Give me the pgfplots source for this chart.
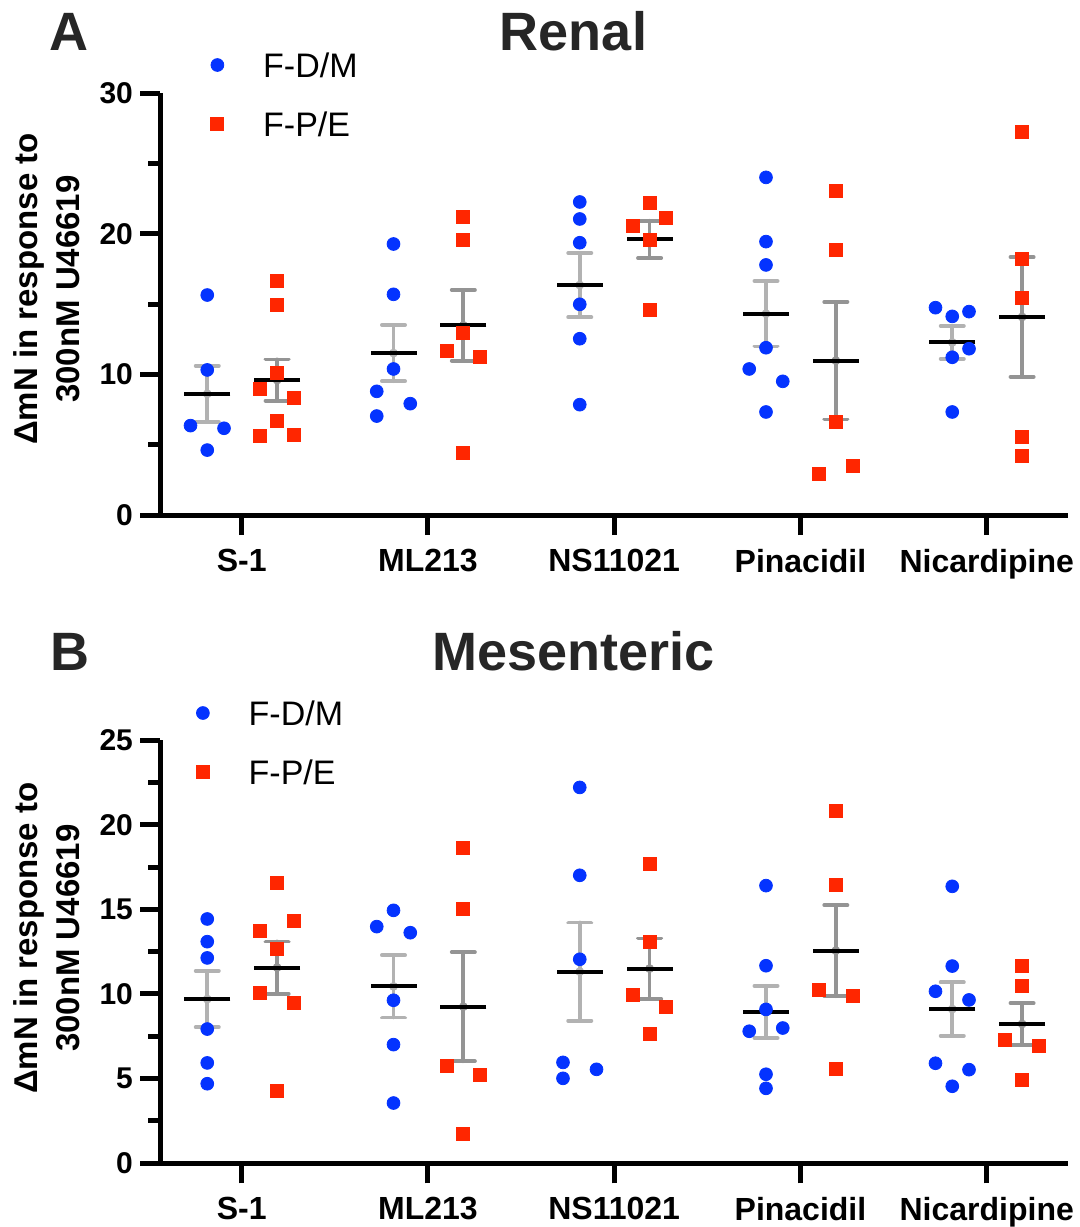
\documentclass[border=0pt]{standalone}
\usepackage{pgfplots}
\pgfplotsset{compat=1.18}
\usepackage{fontspec}
\setmainfont{Liberation Sans}
\definecolor{pblue}{RGB}{4,51,255}
\definecolor{pred}{RGB}{255,38,0}
\definecolor{errb}{RGB}{178,178,178}
\definecolor{errr}{RGB}{148,148,148}
\definecolor{ttl}{RGB}{38,38,38}
\pgfplotsset{
  panel/.style={
    scale only axis, width=454pt,
    axis lines=left, axis line style={-, line width=2.5pt, black},
    xmin=-0.4387, xmax=4.4365, ymin=0,
    xtick={0,1,2,3,4}, xticklabels={S-1,ML213,NS11021,Pinacidil,Nicardipine},
    tick align=outside, major tick length=10pt, minor tick length=6pt,
    tick style={line width=2.5pt, black},
    xticklabel style={font=\fontsize{16}{19}\selectfont\bfseries, yshift=-3.5pt},
    yticklabel style={font=\fontsize{15}{18}\selectfont\bfseries},
    /pgf/number format/assume math mode=true,
    clip=false,
    legend image code/.code={\path (-6.5pt,0pt) (22.7pt,0pt); \draw[##1] plot coordinates {(0pt,0pt)};},
    legend style={draw=none, fill=none, inner sep=0pt, outer sep=0pt, anchor=north west,
      font=\fontsize{17}{20}\selectfont,
      nodes={inner sep=0pt, text height=12.2pt, text depth=0pt},
      row sep=17.3pt, column sep=0pt},
    legend cell align=left,
    every axis y label/.style={rotate=90, anchor=center, align=center,
      font=\fontsize{16.5}{21}\selectfont\bfseries},
    ylabel={ΔmN in response to\\300nM U46619},
  },
  errblue/.style={forget plot, only marks, mark=none, errb,
    error bars/.cd, y dir=both, y explicit, error mark=|,
    error bar style={line width=1.9pt, line cap=round, errb},
    error mark options={line width=1.9pt, line cap=round, errb, mark size=5.8pt}},
  errred/.style={forget plot, only marks, mark=none, errr,
    error bars/.cd, y dir=both, y explicit, error mark=|,
    error bar style={line width=1.9pt, line cap=round, errr},
    error mark options={line width=1.9pt, line cap=round, errr, mark size=5.8pt}},
  meanline/.style={forget plot, only marks, mark=-, mark size=11.5pt, black,
    mark options={line width=2pt, black}},
  bluepts/.style={only marks, mark=*, mark size=3.2pt, pblue, mark options={draw=none, fill=pblue}},
  redpts/.style={only marks, mark=square*, mark size=3.25pt, pred, mark options={draw=none, fill=pred}},
}
\begin{document}
\begin{tikzpicture}
\path[use as bounding box] (0pt,0pt) rectangle (540pt,-613.5pt);
\node[font=\fontsize{27}{30}\selectfont\bfseries, text=ttl, anchor=base] at (34.5pt,-25pt) {A};
\node[font=\fontsize{27}{30}\selectfont\bfseries, text=ttl, anchor=base] at (286.75pt,-25pt) {Renal};
\node[font=\fontsize{27}{30}\selectfont\bfseries, text=ttl, anchor=base] at (35pt,-335pt) {B};
\node[font=\fontsize{27}{30}\selectfont\bfseries, text=ttl, anchor=base] at (286.75pt,-335pt) {Mesenteric};

% ---------- Renal ----------
\begin{axis}[panel, at={(80pt,-257.5pt)}, anchor=south west,
  height=210.85pt, ymax=30, ytick={0,10,20,30}, minor ytick={5,15,25},
  every axis y label/.append style={at={(rel axis cs:-0.1245,0.536)}},
  legend style={at={(rel axis cs:0,1)}, xshift=22pt, yshift=20.25pt}]
\addplot[errblue] coordinates {
  (-0.185,8.62) +- (0,1.99)
  (0.815,11.52) +- (0,2.00)
  (1.815,16.36) +- (0,2.28)
  (2.815,14.32) +- (0,2.33)
  (3.815,12.28) +- (0,1.17)};
\addplot[errred] coordinates {
  (0.19,9.60) +- (0,1.47)
  (1.19,13.49) +- (0,2.52)
  (2.19,19.61) +- (0,1.33)
  (3.19,10.98) +- (0,4.18)
  (4.19,14.09) +- (0,4.26)};
\addplot[meanline] coordinates {
  (-0.185,8.62) (0.815,11.52) (1.815,16.36) (2.815,14.32) (3.815,12.28)
  (0.19,9.60) (1.19,13.49) (2.19,19.61) (3.19,10.98) (4.19,14.09)};
\addplot[bluepts] coordinates {
  (-0.185,15.65) (-0.185,10.32) (-0.275,6.36) (-0.095,6.17) (-0.185,4.62)
  (0.815,19.28) (0.815,15.70) (0.815,10.39) (0.725,8.80) (0.905,7.92) (0.725,7.04)
  (1.815,22.27) (1.815,21.06) (1.815,19.37) (1.815,14.99) (1.815,12.54) (1.815,7.85)
  (2.815,24.02) (2.815,19.45) (2.815,17.79) (2.815,11.90) (2.725,10.39) (2.905,9.51) (2.815,7.33)
  (3.725,14.75) (3.905,14.47) (3.815,14.13) (3.905,11.83) (3.815,11.22) (3.815,7.33)};
\addlegendentry{F-D/M}
\addplot[redpts] coordinates {
  (0.19,16.62) (0.19,14.92) (0.19,10.08) (0.10,8.94) (0.28,8.30) (0.19,6.73) (0.10,5.60) (0.28,5.67)
  (1.19,21.18) (1.19,19.54) (1.19,12.92) (1.10,11.64) (1.28,11.22) (1.19,4.39)
  (2.19,22.17) (2.28,21.11) (2.10,20.54) (2.19,19.54) (2.19,14.56)
  (3.19,23.03) (3.19,18.83) (3.19,6.59) (3.28,3.46) (3.10,2.89)
  (4.19,27.29) (4.19,18.19) (4.19,15.41) (4.19,5.53) (4.19,4.17)};
\addlegendentry{F-P/E}
\end{axis}

% ---------- Mesenteric ----------
\begin{axis}[panel, at={(80pt,-581.65pt)}, anchor=south west,
  height=211.65pt, ymax=25, ytick={0,5,10,15,20,25}, minor ytick={2.5,7.5,12.5,17.5,22.5},
  every axis y label/.append style={at={(rel axis cs:-0.1245,0.532)}},
  legend style={at={(rel axis cs:0,1)}, xshift=14.75pt, yshift=19.6pt}]
\addplot[errblue] coordinates {
  (-0.185,9.70) +- (0,1.66)
  (0.815,10.45) +- (0,1.84)
  (1.815,11.32) +- (0,2.90)
  (2.815,8.94) +- (0,1.54)
  (3.815,9.11) +- (0,1.58)};
\addplot[errred] coordinates {
  (0.19,11.56) +- (0,1.54)
  (1.19,9.25) +- (0,3.22)
  (2.19,11.50) +- (0,1.78)
  (3.19,12.56) +- (0,2.69)
  (4.19,8.23) +- (0,1.23)};
\addplot[meanline] coordinates {
  (-0.185,9.70) (0.815,10.45) (1.815,11.32) (2.815,8.94) (3.815,9.11)
  (0.19,11.56) (1.19,9.25) (2.19,11.50) (3.19,12.56) (4.19,8.23)};
\addplot[bluepts] coordinates {
  (-0.185,14.43) (-0.185,13.09) (-0.185,12.13) (-0.185,7.93) (-0.185,5.93) (-0.185,4.70)
  (0.815,14.94) (0.725,13.98) (0.905,13.62) (0.815,9.63) (0.815,7.01) (0.815,3.56)
  (1.815,22.20) (1.815,17.01) (1.815,12.05) (1.725,5.96) (1.905,5.55) (1.725,5.02)
  (2.815,16.40) (2.815,11.67) (2.815,9.09) (2.905,7.99) (2.725,7.80) (2.815,5.26) (2.815,4.43)
  (3.815,16.36) (3.815,11.65) (3.725,10.16) (3.905,9.65) (3.725,5.91) (3.905,5.53) (3.815,4.55)};
\addlegendentry{F-D/M}
\addplot[redpts] coordinates {
  (0.19,16.59) (0.28,14.29) (0.10,13.70) (0.19,12.64) (0.10,10.04) (0.28,9.45) (0.19,4.25)
  (1.19,18.60) (1.19,15.00) (1.10,5.73) (1.28,5.20) (1.19,1.71)
  (2.19,17.66) (2.19,13.05) (2.10,9.92) (2.28,9.21) (2.19,7.62)
  (3.19,20.79) (3.19,16.42) (3.10,10.22) (3.28,9.86) (3.19,5.55)
  (4.19,11.63) (4.19,10.45) (4.10,7.26) (4.28,6.91) (4.19,4.90)};
\addlegendentry{F-P/E}
\end{axis}
\end{tikzpicture}
\end{document}
